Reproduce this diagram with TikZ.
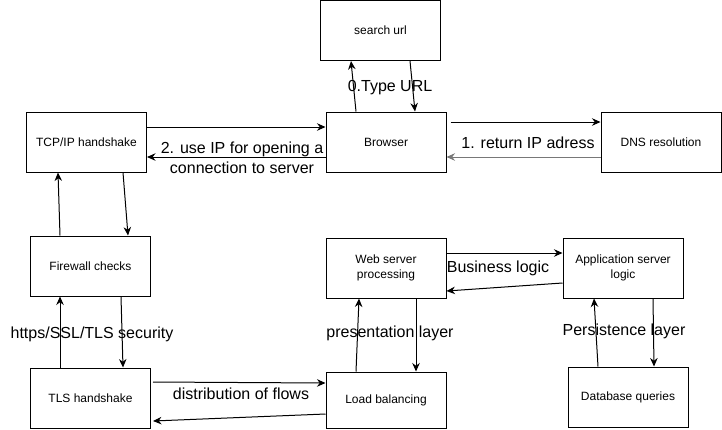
\documentclass[tikz,border=0pt]{standalone}
\usepackage{fontspec}
\setmainfont{Liberation Sans}
\usepackage{tikz}
\usetikzlibrary{arrows.meta}
\definecolor{returngray}{RGB}{120, 120, 120}

\begin{document}
\begin{tikzpicture}[x=1pt, y=-1pt,
    box/.style={draw, line width=1pt, minimum width=120pt, minimum height=60pt, inner sep=0pt, align=center, font=\fontsize{12}{14.5}\selectfont},
    lbl/.style={align=center, inner sep=0pt, font=\fontsize{16}{20}\selectfont},
    arr/.style={line width=1pt, -{Stealth[length=8.5pt, width=7.5pt]}}]
    \useasboundingbox (0,0) rectangle (722,429);

    % Request path
    \node[box] (search) at (380.5,30.5) {search url};
    \node[box] (tcp) at (86.5,142) {TCP/IP handshake};
    \node[box] (browser) at (386,142) {Browser};
    \node[box] (dns) at (661,142) {DNS resolution};

    % Security path
    \node[box] (firewall) at (90.5,266) {Firewall checks};
    \node[box] (tls) at (90.5,398) {TLS handshake};

    % Server side
    \node[box, minimum height=56pt] (load) at (386,400) {Load balancing};
    \node[box] (web) at (386,268) {Web server\\processing};
    \node[box] (app) at (623,268) {Application server\\logic};
    \node[box] (db) at (628,397) {Database queries};

    % Browser <-> search url
    \draw[arr] ([xshift=-30pt]browser.north) -- ([xshift=-29.5pt]search.south);
    \draw[arr] ([xshift=29.5pt]search.south) -- ([xshift=29pt]browser.north);
    \node[lbl] (typeurl) at (390,88) {0.Type URL};

    % Browser <-> TCP/IP handshake
    \draw[arr] ([yshift=15pt]tcp.east) -- ([yshift=15pt]browser.west);
    \draw[arr] ([yshift=-15pt]browser.west) -- ([yshift=-15pt]tcp.east);
    \node[lbl] (useip) at (242,158) {2. use IP for opening a\\connection to server};

    % Browser <-> DNS resolution
    \draw[arr] ([xshift=4pt, yshift=20pt]browser.east) -- ([yshift=20pt]dns.west);
    \draw[arr, returngray] ([yshift=-15pt]dns.west) -- ([yshift=-15pt]browser.east);
    \node[lbl] (returnip) at (528,143) {1. return IP adress};

    % TCP/IP <-> Firewall
    \draw[arr] ([xshift=-30.5pt]firewall.north) -- ([xshift=-28.5pt]tcp.south);
    \draw[arr] ([xshift=36.5pt]tcp.south) -- ([xshift=37.5pt]firewall.north);

    % Firewall <-> TLS
    \draw[arr] ([xshift=-30.5pt]tls.north) -- ([xshift=-30.5pt]firewall.south);
    \draw[arr] ([xshift=30.5pt]firewall.south) -- ([xshift=32.5pt]tls.north);
    \node[lbl] (security) at (92,334) {https/SSL/TLS security};

    % TLS <-> Load balancing
    \draw[arr] ([xshift=2pt, yshift=16pt]tls.east) -- ([yshift=17pt]load.west);
    \draw[arr] ([yshift=-14pt]load.west) -- ([xshift=2pt, yshift=-23pt]tls.east);
    \node[lbl] (flows) at (241,394) {distribution of flows};

    % Load balancing <-> Web server
    \draw[arr] ([xshift=-30pt]load.north) -- ([xshift=-27pt]web.south);
    \draw[arr] ([xshift=30pt]web.south) -- ([xshift=30pt]load.north);
    \node[lbl] (presentation) at (390,333) {presentation layer};

    % Web server <-> Application server
    \draw[arr] ([yshift=15pt]web.east) -- ([yshift=15pt]app.west);
    \draw[arr] ([yshift=-15pt]app.west) -- ([yshift=-23pt]web.east);
    \node[lbl] (business) at (498,268) {Business logic};

    % Application server <-> Database
    \draw[arr] ([xshift=-30pt]db.north) -- ([xshift=-29pt]app.south);
    \draw[arr] ([xshift=30pt]app.south) -- ([xshift=26pt]db.north);
    \node[lbl] (persistence) at (624,331) {Persistence layer};
\end{tikzpicture}
\end{document}
